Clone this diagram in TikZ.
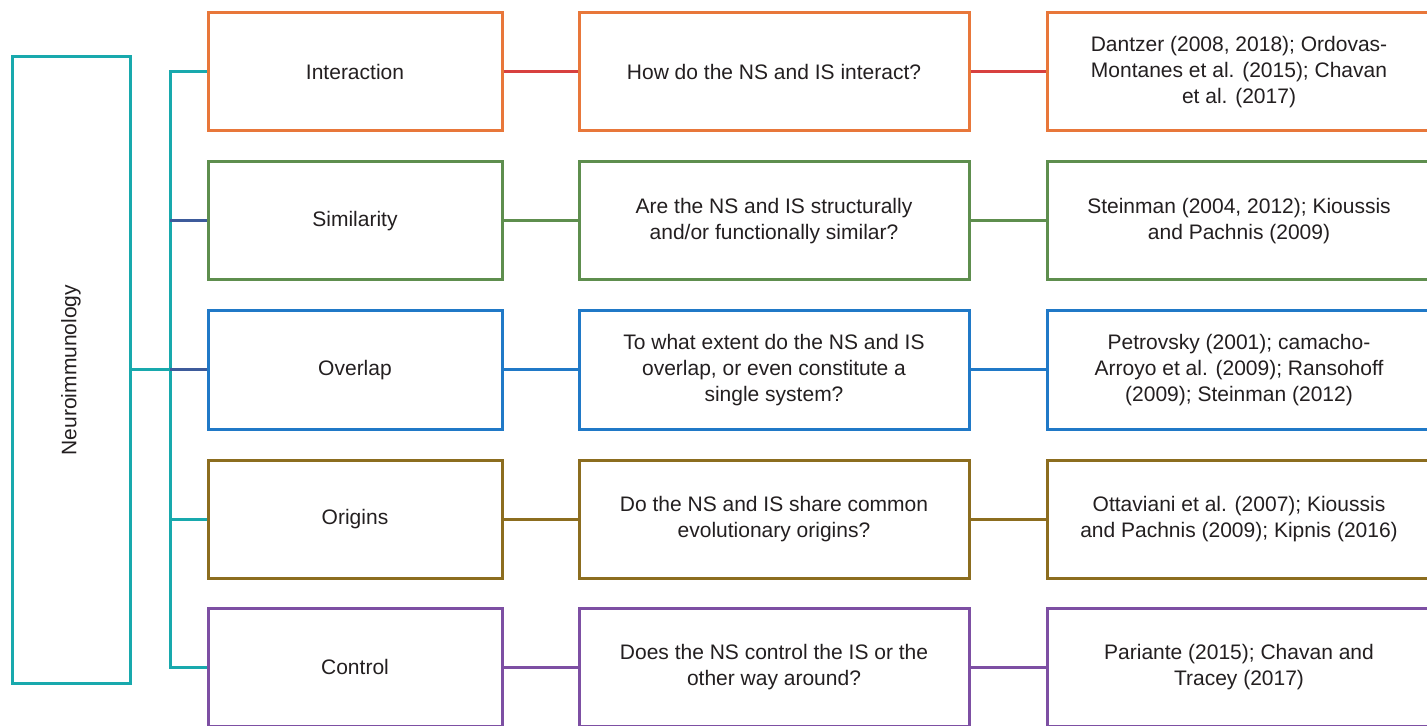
\documentclass[tikz,border=0pt]{standalone}
\usepackage{fontspec}
\setmainfont{Liberation Sans}
\definecolor{cteal}{HTML}{18A9AD}
\definecolor{corange}{HTML}{E8773A}
\definecolor{cred}{HTML}{D8403F}
\definecolor{cgreen}{HTML}{5E8E4E}
\definecolor{cblue}{HTML}{2079C7}
\definecolor{colive}{HTML}{8C6D1F}
\definecolor{cpurple}{HTML}{7D4FA3}
\definecolor{cslate}{HTML}{3D5B9B}
\definecolor{ctext}{HTML}{231F20}
\tikzset{
  box/.style={draw, line width=1.5pt, fill=white, inner sep=0pt, align=center,
    text=ctext, font=\fontsize{10.5}{13}\selectfont, minimum height=59pt},
  colA/.style={box, minimum width=147pt},
  colB/.style={box, minimum width=195pt},
  colC/.style={box, minimum width=192pt},
  link/.style={line width=1.5pt},
}
\begin{document}
\begin{tikzpicture}[x=0.5pt,y=-0.5pt]
\useasboundingbox (0,0) rectangle (1427,726);
\fill[white] (0,0) rectangle (1427,726);
% root
\node[box, draw=cteal, minimum width=59pt, minimum height=313pt] (n) at (71,370)
  {\rotatebox{90}{Neuroimmunology}};
% column A
\node[colA, draw=corange] (a1) at (355,72) {Interaction};
\node[colA, draw=cgreen] (a2) at (355,221) {Similarity};
\node[colA, draw=cblue] (a3) at (355,370) {Overlap};
\node[colA, draw=colive] (a4) at (355,519) {Origins};
\node[colA, draw=cpurple] (a5) at (355,667) {Control};
% column B
\node[colB, draw=corange] (b1) at (774,72) {How do the NS and IS interact?};
\node[colB, draw=cgreen] (b2) at (774,221) {Are the NS and IS structurally\\and/or functionally similar?};
\node[colB, draw=cblue] (b3) at (774,370) {To what extent do the NS and IS\\overlap, or even constitute a\\single system?};
\node[colB, draw=colive] (b4) at (774,519) {Do the NS and IS share common\\evolutionary origins?};
\node[colB, draw=cpurple] (b5) at (774,667) {Does the NS control the IS or the\\other way around?};
% column C
\node[colC, draw=corange] (c1) at (1239,72) {Dantzer (2008, 2018); Ordovas-\\Montanes et al. (2015); Chavan\\et al. (2017)};
\node[colC, draw=cgreen] (c2) at (1239,221) {Steinman (2004, 2012); Kioussis\\and Pachnis (2009)};
\node[colC, draw=cblue] (c3) at (1239,370) {Petrovsky (2001); camacho-\\Arroyo et al. (2009); Ransohoff\\(2009); Steinman (2012)};
\node[colC, draw=colive] (c4) at (1239,519) {Ottaviani et al. (2007); Kioussis\\and Pachnis (2009); Kipnis (2016)};
\node[colC, draw=cpurple] (c5) at (1239,667) {Pariante (2015); Chavan and\\Tracey (2017)};
% trunk
\coordinate (t1) at (170,72);
\coordinate (t2) at (170,221);
\coordinate (t3) at (170,370);
\coordinate (t4) at (170,519);
\coordinate (t5) at (170,667);
\draw[link, cteal] (n.east) -- (t3);
\draw[link, cteal, line join=miter] (a1.west) -- (t1) -- (t5) -- (a5.west);
\draw[link, cslate] (t2) -- (a2.west);
\draw[link, cslate] (t3) -- (a3.west);
\draw[link, cteal] (t4) -- (a4.west);
% row links
\draw[link, cred] (a1.east) -- (b1.west);
\draw[link, cred] (b1.east) -- (c1.west);
\draw[link, cgreen] (a2.east) -- (b2.west);
\draw[link, cgreen] (b2.east) -- (c2.west);
\draw[link, cblue] (a3.east) -- (b3.west);
\draw[link, cblue] (b3.east) -- (c3.west);
\draw[link, colive] (a4.east) -- (b4.west);
\draw[link, colive] (b4.east) -- (c4.west);
\draw[link, cpurple] (a5.east) -- (b5.west);
\draw[link, cpurple] (b5.east) -- (c5.west);
\end{tikzpicture}
\end{document}
